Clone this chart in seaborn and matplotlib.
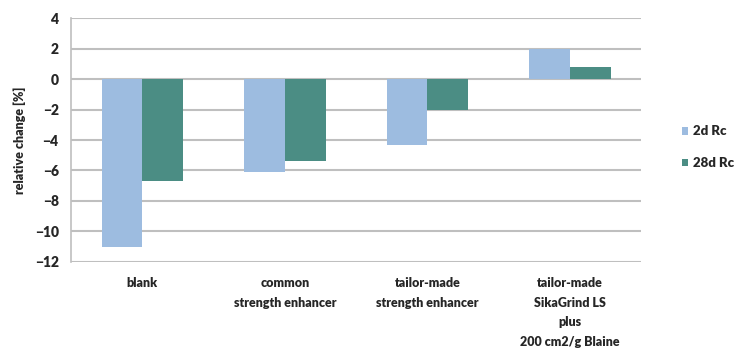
import matplotlib
matplotlib.use("Agg")
import matplotlib.pyplot as plt
import seaborn as sns
import pandas as pd

categories = [
    "blank",
    "common\nstrength enhancer",
    "tailor-made\nstrength enhancer",
    "tailor-made\nSikaGrind LS\nplus\n200 cm2/g Blaine",
]
rc_2d = [-11.0, -6.1, -4.3, 2.0]
rc_28d = [-6.7, -5.4, -2.0, 0.8]
series_names = ["2d Rc", "28d Rc"]
y_ticks = [4, 2, 0, -2, -4, -6, -8, -10, -12]

df = pd.DataFrame({
    "category": categories * 2,
    "value": rc_2d + rc_28d,
    "series": [series_names[0]] * len(categories) + [series_names[1]] * len(categories),
})

sns.set_theme(style="white")
plt.rcParams["font.family"] = ["Lato", "DejaVu Sans"]
plt.rcParams["font.weight"] = "bold"

fig = plt.figure(figsize=(7.49, 3.54), dpi=100)
ax = fig.add_axes([0.095, 0.26, 0.761, 0.689])

palette = {"2d Rc": "#9DBCE0", "28d Rc": "#4B8D84"}
sns.barplot(data=df, x="category", y="value", hue="series", palette=palette,
            width=0.57, saturation=1, ax=ax, zorder=3, legend=True,
            linewidth=0, edgecolor="none")

ax.set_ylim(-12, 4)
ax.set_yticks(y_ticks)
ax.yaxis.grid(True, color="#BFBFBF", linewidth=1.5, zorder=0)
ax.set_axisbelow(True)
for side in ["top", "right", "bottom"]:
    ax.spines[side].set_visible(False)
ax.spines["left"].set_color("#BFBFBF")
ax.spines["left"].set_linewidth(1.2)
ax.axhline(0, color="#BFBFBF", linewidth=1.2, zorder=2)

ax.tick_params(axis="y", labelsize=10, colors="#262626", length=4, color="#BFBFBF", pad=5)
ax.tick_params(axis="x", labelsize=9, colors="#262626", length=0, pad=11)
for lbl in ax.get_xticklabels():
    lbl.set_linespacing(1.75)
    lbl.set_fontweight("heavy")
for lbl in ax.get_yticklabels():
    lbl.set_fontweight("heavy")

ax.set_xlabel("")
ax.set_ylabel("relative change [%]", fontsize=9, color="#262626", fontweight="heavy", labelpad=6)

leg = ax.legend(loc="center left", bbox_to_anchor=(1.05, 0.47), frameon=False,
                fontsize=9.5, handlelength=0.5, handleheight=0.5, handletextpad=0.4,
                labelspacing=1.5)
for t in leg.get_texts():
    t.set_color("#262626")
    t.set_fontweight("heavy")

fig.savefig("out.png", dpi=100)
